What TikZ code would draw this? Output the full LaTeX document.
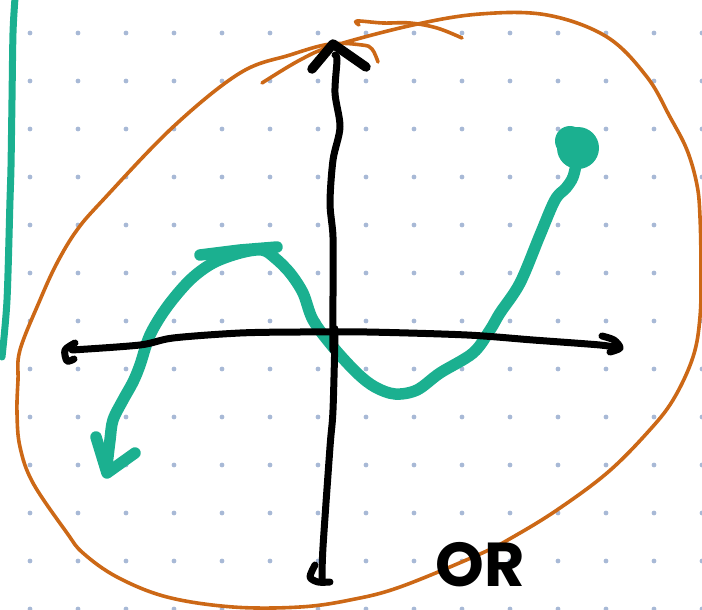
\documentclass[tikz,border=0pt]{standalone}
\usepackage{fontspec}
\newfontfamily\orfont{Poppins}
\definecolor{tealc}{RGB}{27,176,144}
\definecolor{orangec}{RGB}{204,104,22}
\definecolor{dotc}{RGB}{168,185,214}
\tikzset{
  blackstroke/.style={draw=black,line width=7pt,line cap=round,line join=round},
  tealstroke/.style={draw=tealc,line width=11.5pt,line cap=round,line join=round},
  orangestroke/.style={draw=orangec,line width=3.6pt,line cap=round,line join=round},
  griddot/.style={fill=dotc,draw=none}
}
\begin{document}
\begin{tikzpicture}[x=1pt,y=-1pt]
\useasboundingbox (0,0) rectangle (702,610);
% dot grid
\foreach \i in {0,...,14}{
  \foreach \j in {0,...,12}{
    \fill[griddot] ({30+48*\i},{33+48*\j}) circle (2.4);
  }
}
% left teal line
\draw[tealc,line width=7pt,line cap=round] plot[smooth] coordinates {(15,-2) (13,33) (12,100) (11,167) (10,200) (7,300) (2,357)};
% orange loop
\draw[orangestroke] plot[smooth,tension=0.6] coordinates {(262,83) (300,60) (333,46) (413,25) (480,14) (547,15) (607,37) (647,77) (670,117) (687,150) (697,185) (700,217) (701,270) (700,317) (693,357) (673,400) (647,433) (607,473) (557,510) (513,537) (480,554) (400,587) (350,600) (300,607) (233,607) (167,597) (117,577) (83,553) (67,533) (33,483) (20,447) (17,413) (18,380) (20,350) (40,300) (57,263) (77,230) (103,200) (173,127) (240,73) (290,55) (330,44) (362,45) (372,49) (378,62)};
\draw[orangestroke] plot[smooth,tension=0.6] coordinates {(359,25) (357,21) (383,23) (410,23) (437,28) (462,38)};
% teal curve
\draw[tealstroke] plot[smooth,tension=0.55] coordinates {(107,465) (110,440) (113,420) (123,400) (133,382) (140,365) (150,335) (167,307) (190,280) (213,263) (240,253) (262,250) (275,258) (290,273) (303,293) (313,320) (333,347) (357,373) (375,387) (395,394) (417,390) (440,373) (473,353) (490,330) (500,313) (520,283) (540,235) (555,200) (566,188) (573,177) (577,160)};
\draw[tealstroke] (200,255) -- (240,250) -- (277,247);
\draw[tealstroke] (96,437) -- (107,473) -- (135,453);
\fill[tealc] (578,148) circle (21);
\fill[tealc] (570,141) circle (15);
% vertical axis
\draw[blackstroke] plot[smooth] coordinates {(335,55) (337,60) (335,93) (340,127) (333,160) (330,203) (333,237) (333,293) (333,350) (335,330) (333,410) (330,447) (323,547) (322,580)};
\draw[blackstroke] plot[smooth] coordinates {(315,565) (310,577) (318,582) (330,582)};
\draw[line width=9.5pt,line cap=round,line join=round] (312,69) -- (333,44) -- (366,67);
% horizontal axis
\draw[blackstroke] plot[smooth,tension=0.5] coordinates {(72,350) (140,345) (173,338) (240,333) (300,332) (367,332) (467,335) (533,340) (600,345) (618,348)};
\draw[blackstroke] plot[smooth] coordinates {(75,343) (65,350) (67,361) (74,359)};
\draw[blackstroke] plot[smooth] coordinates {(602,336) (614,340) (620,348) (610,352)};
% OR text
\node[font=\orfont\bfseries\fontsize{62}{62}\selectfont,text=black,inner sep=0pt] (ortext) at (480,565) {OR};
\end{tikzpicture}
\end{document}
